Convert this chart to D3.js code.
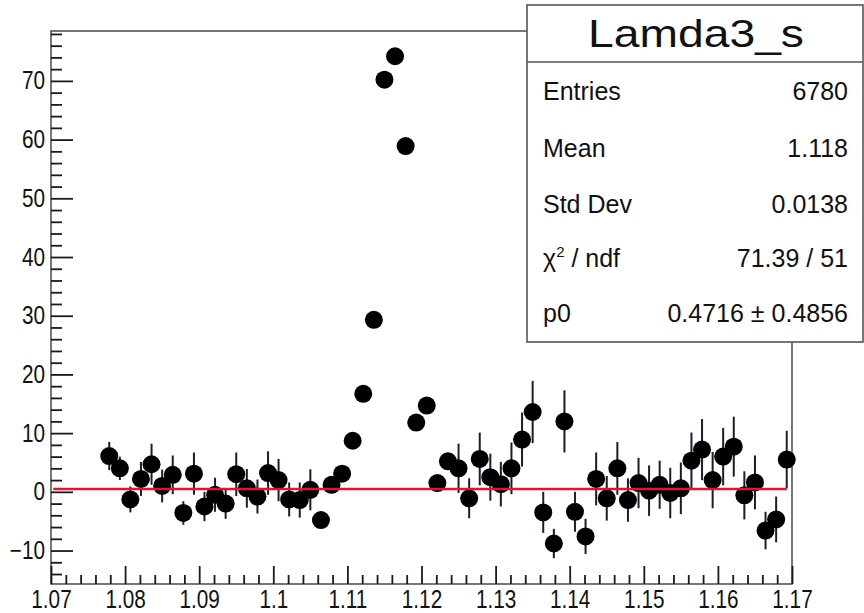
<!DOCTYPE html>
<html>
<head>
<meta charset="utf-8">
<script src="https://cdn.jsdelivr.net/npm/d3@7/dist/d3.min.js"></script>
<style>
body { margin: 0; background: #fff; }
svg { display: block; font-family: "Liberation Sans", Arial, Helvetica, sans-serif; }
</style>
</head>
<body>
<svg id="chart" width="864" height="613"></svg>
<script>
// histogram Lamda3_s: bin centres, contents and errors
const binCenters = [
    1.07786, 1.07929, 1.08071, 1.08214, 1.08357, 1.08500, 1.08643, 1.08786, 1.08929, 1.09071,
    1.09214, 1.09357, 1.09500, 1.09643, 1.09786, 1.09929, 1.10071, 1.10214, 1.10357, 1.10500,
    1.10643, 1.10786, 1.10929, 1.11071, 1.11214, 1.11357, 1.11500, 1.11643, 1.11786, 1.11929,
    1.12071, 1.12214, 1.12357, 1.12500, 1.12643, 1.12786, 1.12929, 1.13071, 1.13214, 1.13357,
    1.13500, 1.13643, 1.13786, 1.13929, 1.14071, 1.14214, 1.14357, 1.14500, 1.14643, 1.14786,
    1.14929, 1.15071, 1.15214, 1.15357, 1.15500, 1.15643, 1.15786, 1.15929, 1.16071, 1.16214,
    1.16357, 1.16500, 1.16643, 1.16786, 1.16929
];
const counts = [
    6.1, 4.0, -1.3, 2.2, 4.7, 1.0, 2.9, -3.6, 3.1, -2.5,
    -0.5, -2.0, 3.0, 0.6, -0.8, 3.2, 2.0, -1.3, -1.4, 0.35,
    -4.8, 1.2, 3.1, 8.7, 16.7, 29.3, 70.2, 74.2, 58.9, 11.8,
    14.7, 1.5, 5.2, 4.0, -1.1, 5.6, 2.5, 1.3, 4.0, 8.9,
    13.6, -3.5, -8.8, 12.0, -3.4, -7.6, 2.2, -1.1, 4.0, -1.4,
    1.5, 0.2, 1.2, -0.2, 0.6, 5.3, 7.2, 2.0, 6.0, 7.7,
    -0.6, 1.6, -6.6, -4.7, 5.5
];
const errors = [
    2.4, 2.0, 2.2, 2.9, 3.5, 2.8, 3.3, 2.0, 3.6, 2.5,
    2.9, 2.6, 3.7, 3.3, 2.9, 3.7, 3.6, 2.9, 3.0, 3.5,
    0, 0, 0, 0, 0, 0, 0, 0, 0, 0,
    0, 0, 0, 4.2, 3.4, 4.5, 4.0, 3.8, 4.4, 4.6,
    5.3, 3.5, 2.5, 5.3, 3.4, 3.0, 4.5, 3.8, 4.5, 3.7,
    4.3, 4.3, 4.1, 4.3, 4.4, 4.8, 5.2, 4.8, 4.9, 5.1,
    4.1, 4.6, 3.2, 3.9, 4.9
];

// pol0 fit
const fitP0 = 0.4716;
const fitRange = [1.0703, 1.1693];

// axes
const xDomain = [1.07, 1.17];
const yDomain = [-15.7, 78.5];
const xTicks = [1.07, 1.08, 1.09, 1.1, 1.11, 1.12, 1.13, 1.14, 1.15, 1.16, 1.17];
const yTicks = [-10, 0, 10, 20, 30, 40, 50, 60, 70];

// stats box
const statsTitle = "Lamda3_s";
const statLabels = ["Entries", "Mean", "Std Dev", "chi2", "p0"];
const statValues = ["6780", "1.118", "0.0138", "71.39 / 51", "0.4716 \u00b1 0.4856"];

const frame = {left: 51, top: 31, right: 792, bottom: 584};
const squeeze = 0.83;   // axis numbers look narrow in the original

const svg = d3.select("#chart");

const x = d3.scaleLinear().domain(xDomain).range([frame.left, frame.right]);
const y = d3.scaleLinear().domain(yDomain).range([frame.bottom, frame.top]);

// frame
svg.append("rect")
    .attr("x", frame.left)
    .attr("y", frame.top)
    .attr("width", frame.right - frame.left)
    .attr("height", frame.bottom - frame.top)
    .attr("fill", "none")
    .attr("stroke", "#555")
    .attr("stroke-width", 1.6);

function styleTicks(g){
    g.select(".domain").remove();
    g.selectAll(".tick line").attr("stroke", "#1a1a1a").attr("stroke-width", 1.8);
}

// minor ticks first
const xMinor = d3.range(1.072, 1.1699, 0.002).filter(v => Math.abs(v * 100 - Math.round(v * 100)) > 1e-6);
const yMinor = d3.range(-14, 79, 2).filter(v => v % 10 !== 0);

svg.append("g")
    .attr("transform", `translate(0,${frame.bottom})`)
    .call(d3.axisBottom(x).tickValues(xMinor).tickSize(-9).tickFormat(""))
    .call(styleTicks);

svg.append("g")
    .attr("transform", `translate(${frame.left},0)`)
    .call(d3.axisLeft(y).tickValues(yMinor).tickSize(-11).tickFormat(""))
    .call(styleTicks);

// major ticks + labels
const xAxis = svg.append("g")
    .attr("transform", `translate(0,${frame.bottom})`)
    .call(d3.axisBottom(x).tickValues(xTicks).tickSize(-18).tickPadding(6).tickFormat(d => String(+d.toFixed(2))))
    .call(styleTicks);

const yAxis = svg.append("g")
    .attr("transform", `translate(${frame.left},0)`)
    .call(d3.axisLeft(y).tickValues(yTicks).tickSize(-22).tickPadding(6).tickFormat(d => d < 0 ? "\u2212" + (-d) : d))
    .call(styleTicks);

[xAxis, yAxis].forEach(function(g){
    g.selectAll(".tick text")
        .attr("font-family", "'Liberation Sans', Arial, sans-serif")
        .attr("font-size", 25)
        .attr("fill", "#111")
        .attr("transform", `scale(${squeeze},1)`);
});
yAxis.selectAll(".tick text").attr("x", -6 / squeeze);

// fit line (drawn after the points, like ROOT)
const gData = svg.append("g");

gData.selectAll("line.err")
    .data(binCenters.map((c, i) => ({x: c, v: counts[i], e: errors[i]})).filter(d => d.e > 0))
    .enter()
    .append("line")
        .attr("class", "err")
        .attr("x1", d => x(d.x))
        .attr("x2", d => x(d.x))
        .attr("y1", d => y(d.v - d.e))
        .attr("y2", d => y(d.v + d.e))
        .attr("stroke", "#1c1c2e")
        .attr("stroke-width", 2);

gData.selectAll("circle")
    .data(binCenters.map((c, i) => ({x: c, v: counts[i]})))
    .enter()
    .append("circle")
        .attr("cx", d => x(d.x))
        .attr("cy", d => y(d.v))
        .attr("r", 9)
        .attr("fill", "#000");

svg.append("path")
    .datum(fitRange)
    .attr("d", d3.line().x(d => x(d)).y(() => y(fitP0)))
    .attr("stroke", "#de1430")
    .attr("stroke-width", 2.6)
    .attr("fill", "none");

// stats box
const box = {left: 527, top: 5, right: 863, bottom: 342, split: 62};
const gStats = svg.append("g");

gStats.append("rect")
    .attr("x", box.left)
    .attr("y", box.top)
    .attr("width", box.right - box.left)
    .attr("height", box.bottom - box.top)
    .attr("fill", "#fff")
    .attr("stroke", "#555")
    .attr("stroke-width", 1.6);

gStats.append("line")
    .attr("x1", box.left).attr("x2", box.right)
    .attr("y1", box.split).attr("y2", box.split)
    .attr("stroke", "#555")
    .attr("stroke-width", 1.6);

gStats.append("text")
    .attr("x", (box.left + box.right) / 2 + 1)
    .attr("y", 47)
    .attr("text-anchor", "middle")
    .attr("font-size", 39)
    .attr("textLength", 216)
    .attr("lengthAdjust", "spacingAndGlyphs")
    .attr("fill", "#111")
    .text(statsTitle);

const rowY = [100, 157, 213, 267, 322];

statLabels.forEach(function(label, i){
    const t = gStats.append("text")
        .attr("x", 543)
        .attr("y", rowY[i])
        .attr("font-size", 25)
        .attr("fill", "#111");
    if(label === "chi2"){
        t.append("tspan").text("\u03c7");
        t.append("tspan").attr("dy", -10).attr("font-size", 15).text("2");
        t.append("tspan").attr("dy", 10).text(" / ndf");
    } else {
        t.text(label);
    }

    gStats.append("text")
        .attr("x", 848)
        .attr("y", rowY[i])
        .attr("text-anchor", "end")
        .attr("font-size", 25)
        .attr("fill", "#111")
        .text(statValues[i]);
});
</script>
</body>
</html>
